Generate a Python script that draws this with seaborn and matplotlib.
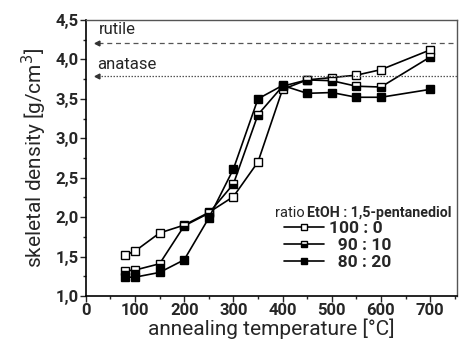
import matplotlib
matplotlib.use("Agg")
import matplotlib.pyplot as plt
import seaborn as sns
import pandas as pd
from matplotlib.lines import Line2D

temps = [80, 100, 150, 200, 250, 300, 350, 400, 450, 500, 550, 600, 700]
dens_100_0 = [1.52, 1.57, 1.80, 1.90, 2.06, 2.26, 2.70, 3.62, 3.74, 3.77, 3.80, 3.87, 4.12]
dens_90_10 = [1.32, 1.33, 1.41, 1.89, 2.05, 2.42, 3.30, 3.66, 3.74, 3.73, 3.66, 3.65, 4.03]
dens_80_20 = [1.24, 1.24, 1.30, 1.46, 1.99, 2.61, 3.50, 3.67, 3.57, 3.58, 3.52, 3.52, 3.62]
labels = ["100 : 0", "  90 : 10", "  80 : 20"]
rutile = 4.21
anatase = 3.79
xticks = [0, 100, 200, 300, 400, 500, 600, 700]
yticks = [1.0, 1.5, 2.0, 2.5, 3.0, 3.5, 4.0, 4.5]

sns.set_style("ticks")
plt.rcParams['font.family'] = ['Roboto', 'DejaVu Sans']

fig = plt.figure(figsize=(4.59, 3.5), dpi=100)
ax = fig.add_axes([0.187, 0.154, 0.809, 0.789])

fills = ['none', 'bottom', 'full']
series = [dens_100_0, dens_90_10, dens_80_20]
handles = []
for vals, lab, fs in zip(series, labels, fills):
    df = pd.DataFrame({"T": temps, "rho": vals})
    kw = dict(marker='s', markersize=6.3, markeredgecolor='black', markeredgewidth=1.0)
    if fs == 'none':
        kw.update(markerfacecolor='white', fillstyle='full')
    elif fs == 'bottom':
        kw.update(markerfacecolor='black', markerfacecoloralt='white', fillstyle='bottom')
    else:
        kw.update(markerfacecolor='black', fillstyle='full')
    sns.lineplot(data=df, x="T", y="rho", ax=ax, color='black', linewidth=1.2,
                 legend=False, **kw)
    handles.append(Line2D([0], [0], color='black', linewidth=1.2, label=lab,
                          marker='s', markersize=5.0, markeredgecolor='black',
                          markerfacecolor=kw['markerfacecolor'],
                          markerfacecoloralt=kw.get('markerfacecoloralt', 'none'),
                          fillstyle=kw['fillstyle']))

# reference lines with arrows
ax.plot([24, 760], [rutile, rutile], color='#555555', linestyle=(0, (4, 3)), linewidth=0.9)
ax.plot([24, 760], [anatase, anatase], color='#555555', linestyle=(0, (1.2, 1.2)), linewidth=0.9)
for yv in (rutile, anatase):
    ax.plot([22], [yv], marker='<', markersize=3.5, color='#333333')
ax.text(27, 4.38, "rutile", fontsize=12, va='center', ha='left')
ax.text(22, 3.94, "anatase", fontsize=12, va='center', ha='left')

ax.set_xlim(0, 755)
ax.set_ylim(1.0, 4.5)
ax.set_xticks(xticks)
ax.set_xticklabels([str(t) for t in xticks], fontweight='bold', fontsize=12)
ax.set_xticks([50, 150, 250, 350, 450, 550, 650, 750], minor=True)
ax.set_yticks(yticks)
ax.set_yticklabels([f"{t:.1f}".replace('.', ',') for t in yticks], fontweight='bold', fontsize=12)
ax.set_yticks([1.25, 1.75, 2.25, 2.75, 3.25, 3.75, 4.25], minor=True)
ax.tick_params(axis='both', which='major', direction='out', length=4, width=1, pad=1)
ax.tick_params(axis='both', which='minor', direction='out', length=2.5, width=1)
ax.set_xlabel("annealing temperature [°C]", fontsize=15, labelpad=0)
ax.set_ylabel("skeletal density [g/cm$^3$]", fontsize=15, labelpad=5)
for s in ['left', 'bottom']:
    ax.spines[s].set_linewidth(1.2)
    ax.spines[s].set_color('black')
for s in ['top', 'right']:
    ax.spines[s].set_linewidth(1.0)
    ax.spines[s].set_color('#555555')
    ax.spines[s].set_visible(True)

# legend title (mixed weight)
fig.text(275/459, 1 - 213/350, "ratio", fontsize=10.5, va='center', ha='left')
fig.text(307/459, 1 - 213/350, "EtOH : 1,5-pentanediol", fontsize=10.2, fontweight='bold',
         va='center', ha='left')
leg = ax.legend(handles=handles, loc='upper left', bbox_to_anchor=(284/459, 1 - 221/350),
                bbox_transform=fig.transFigure, frameon=False, handlelength=2.3,
                handletextpad=0.3, labelspacing=0.1, borderpad=0, borderaxespad=0,
                prop={'weight': 'bold', 'size': 12.5})

fig.savefig("out.png", dpi=100)
